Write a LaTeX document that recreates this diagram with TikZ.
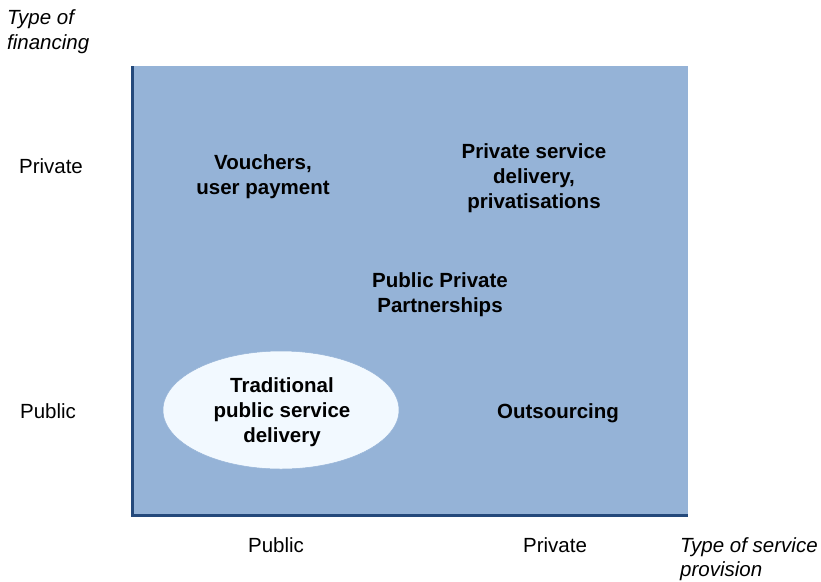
\documentclass[tikz,border=0pt]{standalone}
\usepackage{fontspec}
\setmainfont{Liberation Sans}
\usetikzlibrary{shapes.geometric}
\definecolor{panel}{HTML}{95B3D7}
\definecolor{axisblue}{HTML}{24497B}
\definecolor{ovalfill}{HTML}{F2F9FF}
\begin{document}
\begin{tikzpicture}[x=1pt,y=-1pt,
  lbl/.style={font=\fontsize{20.5}{25}\selectfont, align=center, inner sep=0pt},
  bold/.style={lbl, font=\fontsize{20.5}{25}\selectfont\bfseries},
  ital/.style={lbl, font=\fontsize{20.5}{24.5}\selectfont\itshape, align=left, anchor=west}]
\useasboundingbox (0,0) rectangle (821,581);
\fill[panel] (131,66) rectangle (688,517);
\coordinate (top) at (132.5,66);
\coordinate (origin) at (132.5,515.5);
\coordinate (right) at (688,515.5);
\draw[axisblue, line width=3pt] (top) -- (origin) -- (right);
\node[draw=panel, fill=ovalfill, ellipse, minimum width=236pt, minimum height=118pt, line width=0.5pt, inner sep=0pt] (oval) at (281,410) {};
\node[bold] (trad) at (282,412.5) {Traditional\\public service\\delivery};
\node[bold] (vouch) at (263,177) {Vouchers,\\user payment};
\node[bold] (priv) at (534,178) {Private service\\delivery,\\privatisations};
\node[bold] (ppp) at (440,295) {Public Private\\Partnerships};
\node[bold] (outs) at (558,413) {Outsourcing};
\node[lbl] (yprivate) at (51,166) {Private};
\node[lbl] (ypublic) at (48,411) {Public};
\node[lbl] (xpublic) at (276,545) {Public};
\node[lbl] (xprivate) at (555,545) {Private};
\node[ital] (ytitle) at (7,31.5) {Type of\\financing};
\node[ital] (xtitle) at (680,559) {Type of service\\provision};
\end{tikzpicture}
\end{document}
